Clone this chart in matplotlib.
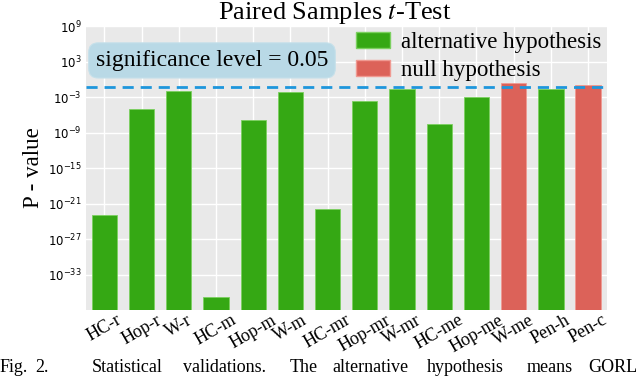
import matplotlib
matplotlib.use("Agg")
import matplotlib.pyplot as plt
from matplotlib.patches import Patch

# data
labels = ["HC-r", "Hop-r", "W-r", "HC-m", "Hop-m", "W-m", "HC-mr",
          "Hop-mr", "W-mr", "HC-me", "Hop-me", "W-me", "Pen-h", "Pen-c"]
p_values = [1e-23, 1e-5, 1.2e-2, 1.5e-37, 1.5e-7, 8e-3, 1.2e-22,
            2e-4, 2.5e-2, 2.5e-8, 1.2e-3, 0.25, 2.5e-2, 0.1]
accepted_null = [False] * 11 + [True, False, True]
alpha = 0.05
ytick_vals = [1e-33, 1e-27, 1e-21, 1e-15, 1e-9, 1e-3, 1e3, 1e9]

green = "#35a814"
red = "#dc6259"
serif = "Liberation Serif"

fig = plt.figure(figsize=(6.4, 3.79), dpi=100)
ax = fig.add_axes([0.134, 0.182, 0.814, 0.749])
ax.set_facecolor("#e9e9e9")
for s in ax.spines.values():
    s.set_visible(False)
ax.set_axisbelow(True)
ax.grid(color="white", linewidth=1.0)

colors = [red if n else green for n in accepted_null]
edges = ["#f09a92" if n else "#7cd060" for n in accepted_null]
x = list(range(len(labels)))
ax.bar(x, p_values, width=0.68, color=colors, edgecolor=edges, linewidth=0.6)
ax.set_yscale("log")
ax.set_ylim(1e-39, 1e9)
ax.set_xlim(-0.5, len(labels) - 0.5)
ax.set_yticks(ytick_vals)
ax.minorticks_off()
ax.tick_params(axis="y", length=0, labelsize=8.5, pad=3)
ax.tick_params(axis="x", length=0, pad=1)
ax.set_xticks(x)
ax.set_xticklabels(labels, rotation=30, ha="center", fontsize=13, family=serif)

ax.axhline(alpha, color="#1e96dc", linestyle=(0, (4, 2.5)), linewidth=2)

ax.set_ylabel("P - value", family=serif, fontsize=16.5, labelpad=3)
ax.set_title("Paired Samples $t$-Test", family=serif, math_fontfamily="stix",
             fontsize=19, pad=5, x=0.477)

ax.text(-0.23, 1.6e3, "significance level = 0.05", family=serif, fontsize=17,
        va="center", ha="left",
        bbox=dict(boxstyle="round,pad=0.3,rounding_size=0.4",
                  facecolor="#b9d9e6", edgecolor="#c5e0ea", linewidth=0.8))

handles = [Patch(facecolor=green, edgecolor="#7cd060"),
           Patch(facecolor=red, edgecolor="#f09a92")]
ax.legend(handles, ["alternative hypothesis", "null hypothesis"],
          loc="upper right", bbox_to_anchor=(1.0, 1.0), frameon=False,
          prop={"family": serif, "size": 16.5},
          handlelength=1.5, handleheight=0.7, borderaxespad=0, borderpad=0.25,
          labelspacing=0.3, handletextpad=0.45)

# caption fragment from the page
cap_words = [("Fig.", 0), ("2.", 35), ("Statistical", 92), ("validations.", 183),
             ("The", 290), ("alternative", 332), ("hypothesis", 427),
             ("means", 527), ("GORL", 588)]
for w, px in cap_words:
    fig.text(px / 640, 1 - 368 / 379, w, family=serif, fontsize=13,
             va="center", ha="left")

fig.savefig("out.png", dpi=100)
